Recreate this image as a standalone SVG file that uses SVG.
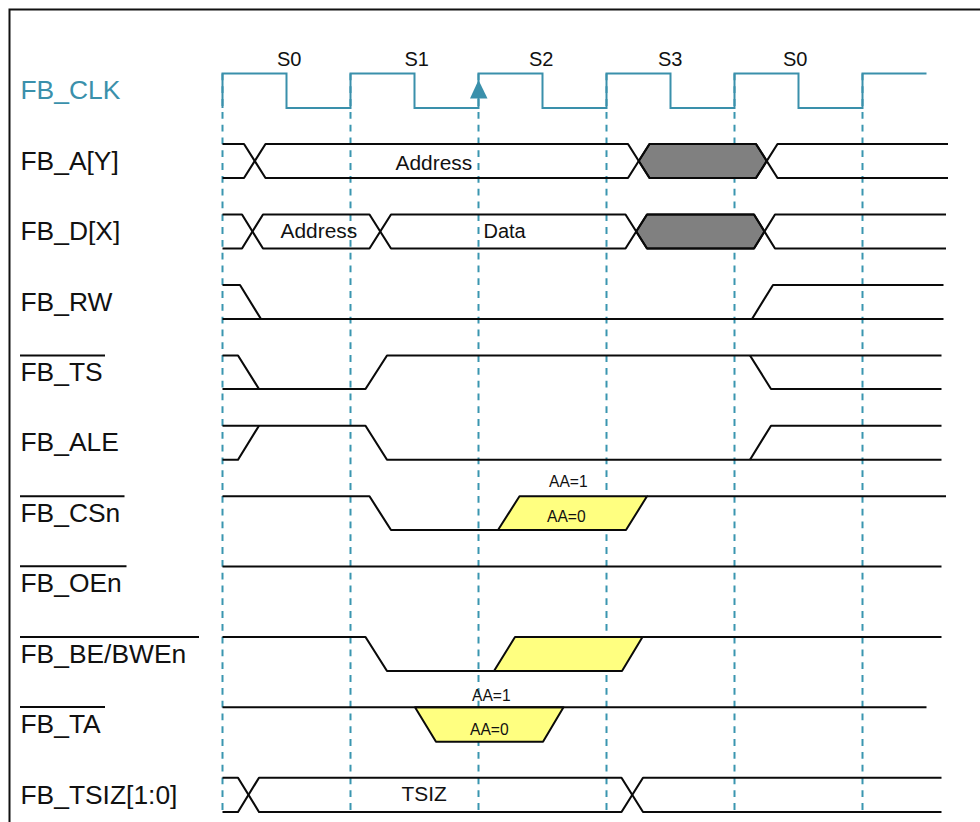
<svg xmlns="http://www.w3.org/2000/svg" width="980" height="822" viewBox="0 0 980 822">
<style>
text{font-family:"Liberation Sans",Arial,sans-serif;fill:#111}
.lab{font-size:26.4px}
.clk{fill:#3a90ab}
.st{font-size:20px}
.val{font-size:20.9px}
.aa{font-size:15.6px}
.tr{fill:none;stroke:#0a0a0a;stroke-width:2.1;stroke-linejoin:round}
.ov{stroke:#0a0a0a;stroke-width:2}
.gray{fill:#808080;stroke:#0a0a0a;stroke-width:2;stroke-linejoin:round}
.yel{fill:#ffff80;stroke:#0a0a0a;stroke-width:2;stroke-linejoin:round}
.guide{stroke:#3a96b0;stroke-width:2;stroke-dasharray:6.8 6;fill:none}
</style>
<rect x="9.5" y="9.5" width="1000" height="900" fill="#fff" stroke="#111" stroke-width="2"/>
<g id="connectors">
<line class="guide" x1="222.5" y1="73.5" x2="222.5" y2="812"/>
<line class="guide" x1="350.5" y1="73.5" x2="350.5" y2="812"/>
<line class="guide" x1="478.5" y1="73.5" x2="478.5" y2="812"/>
<line class="guide" x1="606.5" y1="73.5" x2="606.5" y2="812"/>
<line class="guide" x1="734.5" y1="73.5" x2="734.5" y2="812"/>
<line class="guide" x1="862.5" y1="73.5" x2="862.5" y2="812"/>
</g>
<g id="fb_clk">
<text class="lab clk" x="20.5" y="99">FB_CLK</text>
<path d="M222.5 108V73.5H286.5V108H350.5V73.5H414.5V108H478.5V73.5H542.5V108H606.5V73.5H670.5V108H734.5V73.5H798.5V108H862.5V73.5H926.5" fill="none" stroke="#3a90ab" stroke-width="2"/>
<polygon points="478.5,80 487.5,98.5 470,98.5" fill="#3a90ab"/>
<text class="st" x="277" y="65.7">S0</text>
<text class="st" x="404.5" y="65.7">S1</text>
<text class="st" x="529" y="65.7">S2</text>
<text class="st" x="658" y="65.7">S3</text>
<text class="st" x="783" y="65.7">S0</text>
</g>
<g id="fb_a">
<text class="lab" x="20.5" y="170">FB_A[Y]</text>
<polygon class="gray" points="638.7,161 649.5,144 756,144 766.8,161 756,178 649.5,178"/>
<path class="tr" d="M222.5 144H244L265.5 178H628L649.5 144H756L777.5 178H948"/>
<path class="tr" d="M222.5 178H244L265.5 144H628L649.5 178H756L777.5 144H948"/>
<text class="val" x="395.5" y="170">Address</text>
</g>
<g id="fb_d">
<text class="lab" x="20.5" y="240">FB_D[X]</text>
<polygon class="gray" points="636.2,231.5 647,214.5 754,214.5 764.5,231.5 754,248.5 647,248.5"/>
<path class="tr" d="M222.5 214.5H242L263 248.5H369.5L391 214.5H625.5L647 248.5H754L775 214.5H946"/>
<path class="tr" d="M222.5 248.5H242L263 214.5H369.5L391 248.5H625.5L647 214.5H754L775 248.5H946"/>
<text class="val" x="280.5" y="237.7">Address</text>
<text class="st" x="483.5" y="237.5">Data</text>
</g>
<g id="fb_rw">
<text class="lab" x="20.5" y="310.7">FB_RW</text>
<path class="tr" d="M222.5 285H240L261 319"/>
<path class="tr" d="M222.5 319H943.5"/>
<path class="tr" d="M752 319L773 285H943.5"/>
</g>
<g id="fb_ts">
<text class="lab" x="20.5" y="380.7">FB_TS</text>
<line class="ov" x1="20" y1="355.5" x2="105" y2="355.5"/>
<path class="tr" d="M222.5 355.5H238L259 389"/>
<path class="tr" d="M222.5 389H365.5L387 355.5H941.5"/>
<path class="tr" d="M750 355.5L771 389H941.5"/>
</g>
<g id="fb_ale">
<text class="lab" x="20.5" y="450.7">FB_ALE</text>
<path class="tr" d="M222.5 459.7H238L259 425.7"/>
<path class="tr" d="M222.5 425.7H365.5L387 459.7H941.5"/>
<path class="tr" d="M750 459.7L771 425.7H941.5"/>
</g>
<g id="fb_csn">
<text class="lab" x="20.5" y="521.7">FB_CSn</text>
<line class="ov" x1="20" y1="496.3" x2="124.5" y2="496.3"/>
<polygon class="yel" points="498,530 519.5,496.3 647,496.3 626,530"/>
<path class="tr" d="M222.5 496.3H369.5L391 530H498"/>
<path class="tr" d="M647 496.3H946"/>
<text class="aa" x="549" y="487.3">AA=1</text>
<text class="aa" x="547" y="521.7">AA=0</text>
</g>
<g id="fb_oen">
<text class="lab" x="20.5" y="591.7">FB_OEn</text>
<line class="ov" x1="20" y1="566.3" x2="126.5" y2="566.3"/>
<path class="tr" d="M222.5 566.5H941.5"/>
</g>
<g id="fb_be">
<text class="lab" x="20.5" y="662.7">FB_BE/BWEn</text>
<line class="ov" x1="20" y1="637" x2="199" y2="637"/>
<polygon class="yel" points="494,671 515,637 642.5,637 622,671"/>
<path class="tr" d="M222.5 637H365.5L387 671H494"/>
<path class="tr" d="M642.5 637H941.5"/>
</g>
<g id="fb_ta">
<text class="lab" x="20.5" y="732.7">FB_TA</text>
<line class="ov" x1="20" y1="707" x2="105" y2="707"/>
<polygon class="yel" points="415,707.3 436,741.7 543,741.7 563.5,707.3"/>
<path class="tr" d="M222.5 707.3H926.5"/>
<text class="aa" x="472" y="700.7">AA=1</text>
<text class="aa" x="470" y="734.5">AA=0</text>
</g>
<g id="fb_tsiz">
<text class="lab" x="20.5" y="804">FB_TSIZ[1:0]</text>
<path class="tr" d="M222.5 777.7H238L259 812H621.5L643 777.7H941.5"/>
<path class="tr" d="M222.5 812H238L259 777.7H621.5L643 812H941.5"/>
<text class="val" x="401.5" y="800.7">TSIZ</text>
</g>
</svg>
